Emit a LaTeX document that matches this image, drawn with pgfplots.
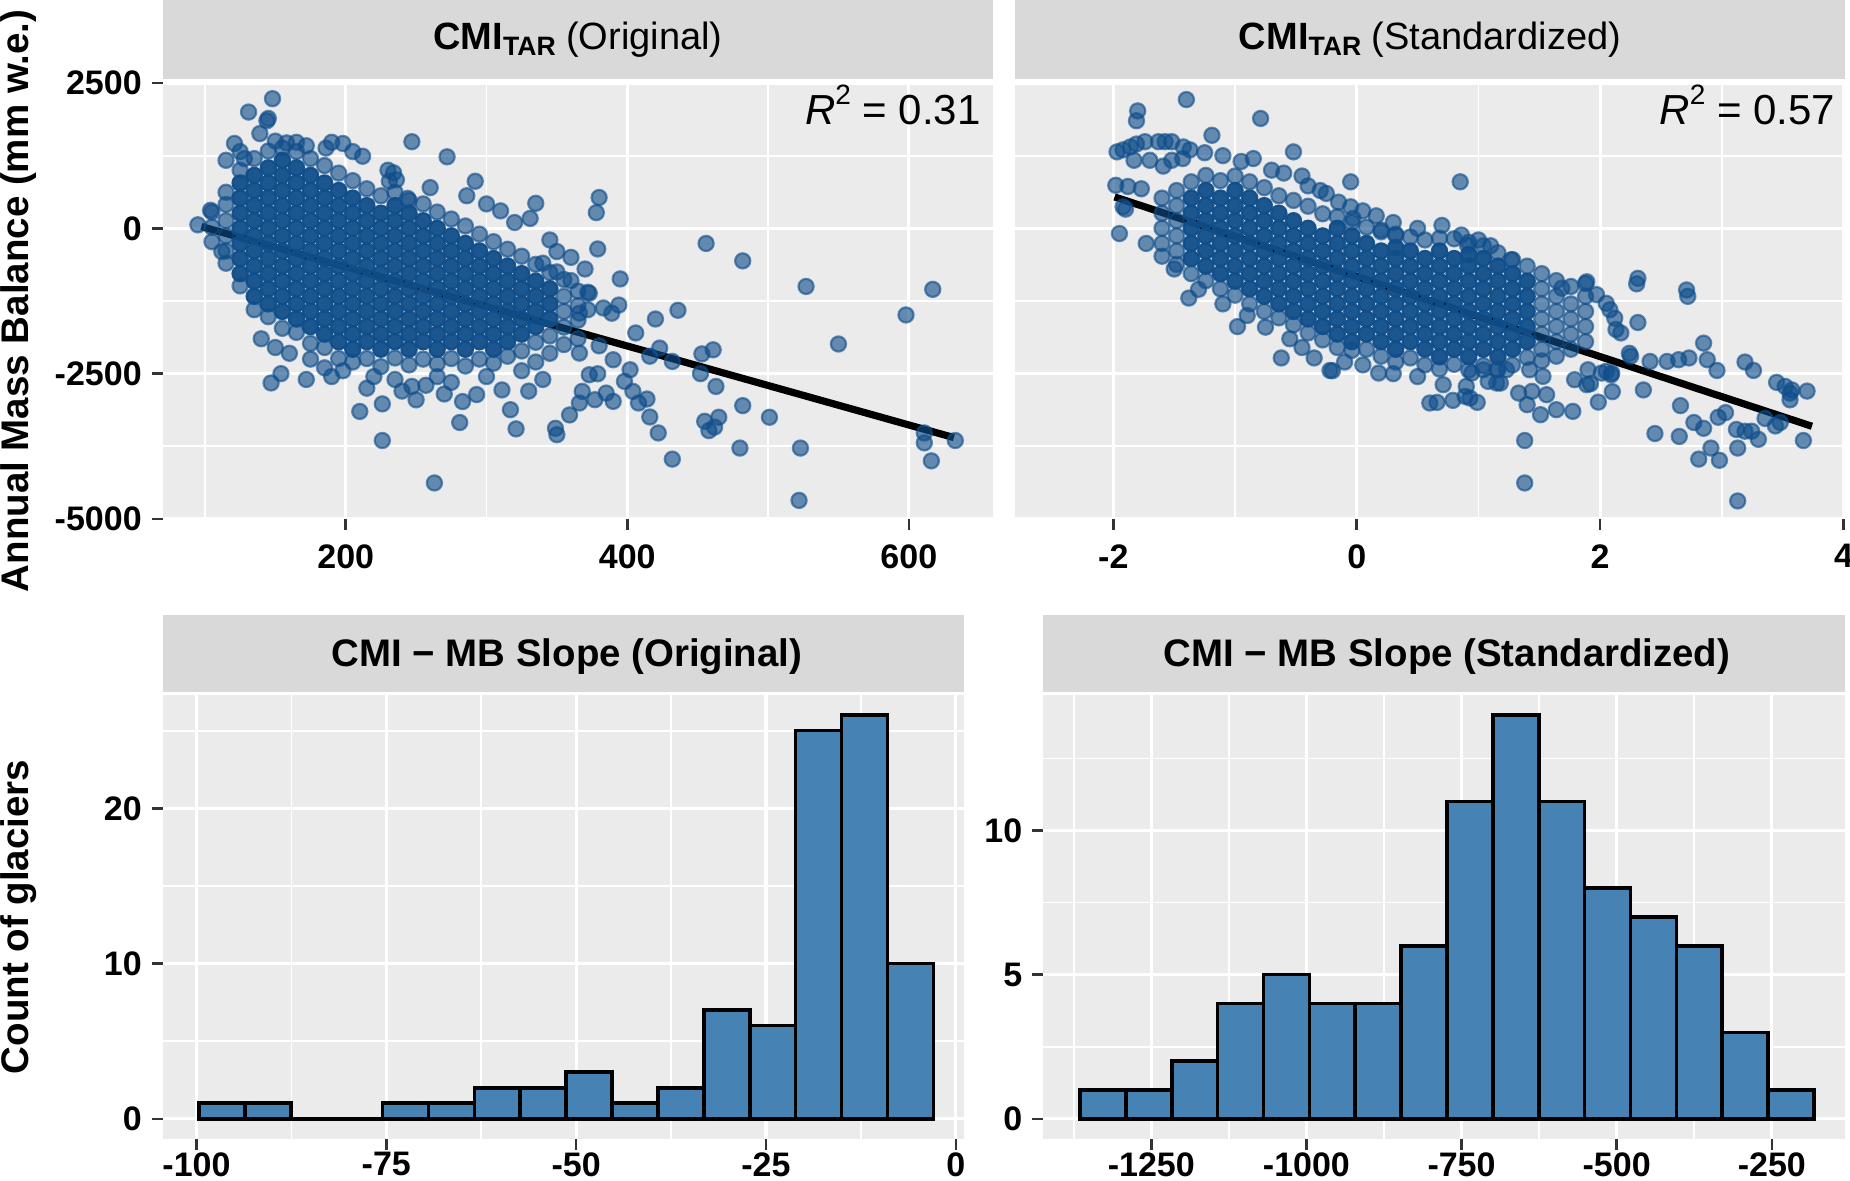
\documentclass[border=0pt]{standalone}
\usepackage{pgfplots}
\pgfplotsset{compat=1.18}
\usepackage{fontspec}
\setmainfont{Liberation Sans}
\definecolor{dblue}{HTML}{104E8B}
\definecolor{steel}{HTML}{4682B4}
\definecolor{panelbg}{HTML}{EBEBEB}
\definecolor{stripbg}{HTML}{D9D9D9}
\definecolor{tickgray}{HTML}{333333}
\newcommand{\tickfont}{\bfseries\fontsize{17}{17}\selectfont}
\pgfplotsset{
  gg/.style={
    scale only axis, anchor=south west,
    axis background/.style={fill=panelbg},
    axis line style={draw=none},
    grid=both,
    major grid style={white, line width=1.6pt},
    minor grid style={white, line width=0.85pt},
    tick align=outside,
    major tick length=5.5pt, minor tick length=0pt,
    tick style={tickgray, line width=1.3pt},
    xtick pos=left, ytick pos=left,
    tick label style={font=\tickfont, text=black},
    xticklabel style={anchor=north, inner sep=0pt, yshift=-7pt},
    yticklabel style={anchor=east, inner sep=0pt, xshift=-4.8pt},
  },
  pts/.style={only marks, mark=*, mark size=3.8pt,
    mark options={fill=dblue, draw=dblue, fill opacity=0.62, draw opacity=0.62, line width=1.1pt}},
  core/.style={only marks, mark=*, mark size=3.8pt,
    mark options={fill=dblue, draw=dblue, fill opacity=0.95, draw opacity=0.95, line width=1.1pt}},
}
\begin{document}
\begin{tikzpicture}
\useasboundingbox (0,0) rectangle (925pt,590.5pt);
% ---------------- top left ----------------
\begin{axis}[gg, at={(81.35pt,331pt)}, width=415.3pt, height=218pt,
  xmin=70, xmax=660, ymin=-5000, ymax=2500,
  xtick={200,400,600}, xticklabels={200,400,600},
  minor xtick={100,300,500},
  ytick={-5000,-2500,0,2500}, yticklabels={-5000,-2500,0,2500},
  minor ytick={-3750,-1250,1250}]
% dense core of the cloud
\addplot[core] coordinates {
(125,780)(125,520)(125,260)(125,0)(125,-260)(125,-520)(125,-780)
(135,910)(135,650)(135,390)(135,130)(135,-130)(135,-390)(135,-650)(135,-910)(135,-1170)
(145,1040)(145,780)(145,520)(145,260)(145,0)(145,-260)(145,-520)(145,-780)(145,-1040)(145,-1300)
(155,1170)(155,910)(155,650)(155,390)(155,130)(155,-130)(155,-390)(155,-650)(155,-910)(155,-1170)(155,-1430)
(165,1040)(165,780)(165,520)(165,260)(165,0)(165,-260)(165,-520)(165,-780)(165,-1040)(165,-1300)(165,-1560)
(175,910)(175,650)(175,390)(175,130)(175,-130)(175,-390)(175,-650)(175,-910)(175,-1170)(175,-1430)(175,-1690)
(185,780)(185,520)(185,260)(185,0)(185,-260)(185,-520)(185,-780)(185,-1040)(185,-1300)(185,-1560)(185,-1820)
(195,650)(195,390)(195,130)(195,-130)(195,-390)(195,-650)(195,-910)(195,-1170)(195,-1430)(195,-1690)(195,-1950)
(205,520)(205,260)(205,0)(205,-260)(205,-520)(205,-780)(205,-1040)(205,-1300)(205,-1560)(205,-1820)(205,-2080)
(215,390)(215,130)(215,-130)(215,-390)(215,-650)(215,-910)(215,-1170)(215,-1430)(215,-1690)(215,-1950)
(225,260)(225,0)(225,-260)(225,-520)(225,-780)(225,-1040)(225,-1300)(225,-1560)(225,-1820)(225,-2080)
(235,390)(235,130)(235,-130)(235,-390)(235,-650)(235,-910)(235,-1170)(235,-1430)(235,-1690)(235,-1950)
(245,260)(245,0)(245,-260)(245,-520)(245,-780)(245,-1040)(245,-1300)(245,-1560)(245,-1820)(245,-2080)
(255,130)(255,-130)(255,-390)(255,-650)(255,-910)(255,-1170)(255,-1430)(255,-1690)(255,-1950)
(265,0)(265,-260)(265,-520)(265,-780)(265,-1040)(265,-1300)(265,-1560)(265,-1820)(265,-2080)
(275,-130)(275,-390)(275,-650)(275,-910)(275,-1170)(275,-1430)(275,-1690)(275,-1950)
(285,-260)(285,-520)(285,-780)(285,-1040)(285,-1300)(285,-1560)(285,-1820)(285,-2080)
(295,-390)(295,-650)(295,-910)(295,-1170)(295,-1430)(295,-1690)(295,-1950)
(305,-520)(305,-780)(305,-1040)(305,-1300)(305,-1560)(305,-1820)(305,-2080)
(315,-650)(315,-910)(315,-1170)(315,-1430)(315,-1690)(315,-1950)
(325,-780)(325,-1040)(325,-1300)(325,-1560)(325,-1820)
(335,-910)(335,-1170)(335,-1430)(335,-1690)
(345,-1040)(345,-1300)(345,-1560)
};
% edge of the cloud and scattered glaciers
\addplot[pts] coordinates {
(105,280)(105,20)(105,-230)
(115,620)(115,410)(115,130)(115,-130)(115,-390)(115,-600)
(125,1000)(125,-990)(135,1200)(135,-1400)(145,1330)(145,-1520)(155,1380)(155,-1720)
(165,1320)(165,-1790)(175,1200)(175,-1980)(185,1080)(185,-2050)(195,950)(195,-2240)
(205,820)(205,-2300)(215,680)(215,-2240)(225,560)(225,-2380)(235,620)(235,-2230)
(245,480)(245,-2350)(255,420)(255,-2250)(265,280)(265,-2330)(275,160)(275,-2240)
(285,40)(285,-2370)(295,-100)(295,-2250)(305,-230)(305,-2320)(315,-360)(315,-2200)
(325,-480)(325,-2110)(335,-620)(335,-1960)(345,-760)(345,-1850)
(355,-880)(355,-1170)(355,-1430)(355,-1700)
(365,-1080)(365,-1330)(365,-1580)
(95,60)(104,310)(112,-400)(121,1460)(115,1170)(131,2000)(148,2230)(145,1890)(144,1850)(139,1630)
(128,1200)(125,1320)(150,1500)(158,1470)(165,1480)(172,1420)(186,1380)(198,1460)(205,1320)(190,1480)
(212,1240)(230,1000)(247,1490)(272,1230)(234,955)(231,810)(236,835)(244,515)(260,700)(292,810)
(286,560)(300,420)(310,300)(335,430)(331,170)(320,100)(345,-200)(350,-400)(360,-500)(370,-700)
(147,-2660)(154,-2500)(172,-2600)(140,-1900)(150,-2050)(160,-2150)(175,-2250)(185,-2400)(198,-2450)
(210,-3150)(226,-3020)(226,-3650)(263,-4380)(281,-3340)(283,-2980)(293,-2860)(317,-3120)(321,-3450)
(349,-3440)(350,-3550)(359,-3210)(311,-2780)(247,-2720)(250,-2950)(257,-2700)(220,-2550)(235,-2600)
(265,-2550)(275,-2650)(300,-2550)(325,-2450)(335,-2300)(345,-2150)(355,-2000)(365,-1900)(340,-2600)
(330,-2800)(270,-2850)(240,-2800)(190,-2550)(215,-2750)
(340,-600)(350,-750)(360,-900)(372,-1100)(366,-1460)(372,-1400)(383,-1370)(389,-1460)(394,-1320)
(380,530)(378,270)(379,-355)(395,-870)(456,-260)(482,-560)(527,-1000)(617,-1050)(598,-1490)(550,-1990)
(436,-1410)(420,-1560)(406,-1800)(423,-2060)(416,-2200)(432,-2290)(453,-2160)(461,-2090)(452,-2500)
(463,-2720)(482,-3050)(501,-3250)(455,-3320)(458,-3480)(462,-3420)(465,-3250)(480,-3780)(523,-3780)
(432,-3970)(522,-4680)(611,-3520)(611,-3690)(616,-4000)(633,-3650)
(373,-1117)(380,-2021)(366,-2147)(390,-2261)(402,-2433)(398,-2633)(404,-2805)(408,-3005)(414,-2936)
(416,-3245)(422,-3520)(373,-2519)(379,-2502)(368,-2805)(377,-2948)(385,-2834)(390,-2977)(366,-3005)
};
\addplot[black, line width=3.6pt] coordinates {(97.5,30)(632,-3600)};
\end{axis}
% ---------------- top right ----------------
\begin{axis}[gg, at={(507.5pt,331pt)}, width=415pt, height=218pt,
  xmin=-2.808, xmax=4.012, ymin=-5000, ymax=2500,
  xtick={-2,0,2,4}, xticklabels={-2,0,2,4},
  minor xtick={-1,1,3},
  ytick={-5000,-2500,0,2500}, yticklabels={},
  y tick style={draw=none},
  minor ytick={-3750,-1250,1250}]
\addplot[core] coordinates {
(-1.36,520)(-1.36,260)(-1.36,0)(-1.36,-260)(-1.36,-520)
(-1.24,650)(-1.24,390)(-1.24,130)(-1.24,-130)(-1.24,-390)(-1.24,-650)
(-1.12,520)(-1.12,260)(-1.12,0)(-1.12,-260)(-1.12,-520)(-1.12,-780)
(-1.00,650)(-1.00,390)(-1.00,130)(-1.00,-130)(-1.00,-390)(-1.00,-650)(-1.00,-910)
(-0.88,520)(-0.88,260)(-0.88,0)(-0.88,-260)(-0.88,-520)(-0.88,-780)(-0.88,-1040)
(-0.76,390)(-0.76,130)(-0.76,-130)(-0.76,-390)(-0.76,-650)(-0.76,-910)(-0.76,-1170)
(-0.64,260)(-0.64,0)(-0.64,-260)(-0.64,-520)(-0.64,-780)(-0.64,-1040)(-0.64,-1300)
(-0.52,130)(-0.52,-130)(-0.52,-390)(-0.52,-650)(-0.52,-910)(-0.52,-1170)(-0.52,-1430)
(-0.40,0)(-0.40,-260)(-0.40,-520)(-0.40,-780)(-0.40,-1040)(-0.40,-1300)(-0.40,-1560)
(-0.28,-130)(-0.28,-390)(-0.28,-650)(-0.28,-910)(-0.28,-1170)(-0.28,-1430)(-0.28,-1690)
(-0.16,0)(-0.16,-260)(-0.16,-520)(-0.16,-780)(-0.16,-1040)(-0.16,-1300)(-0.16,-1560)(-0.16,-1820)
(-0.04,-130)(-0.04,-390)(-0.04,-650)(-0.04,-910)(-0.04,-1170)(-0.04,-1430)(-0.04,-1690)(-0.04,-1950)
(0.08,-260)(0.08,-520)(0.08,-780)(0.08,-1040)(0.08,-1300)(0.08,-1560)(0.08,-1820)
(0.20,-390)(0.20,-650)(0.20,-910)(0.20,-1170)(0.20,-1430)(0.20,-1690)(0.20,-1950)
(0.32,-330)(0.32,-520)(0.32,-780)(0.32,-1040)(0.32,-1300)(0.32,-1560)(0.32,-1820)(0.32,-2080)
(0.44,-390)(0.44,-650)(0.44,-910)(0.44,-1170)(0.44,-1430)(0.44,-1690)(0.44,-1950)
(0.56,-520)(0.56,-780)(0.56,-1040)(0.56,-1300)(0.56,-1560)(0.56,-1820)(0.56,-2080)
(0.68,-390)(0.68,-650)(0.68,-910)(0.68,-1170)(0.68,-1430)(0.68,-1690)(0.68,-1950)(0.68,-2210)
(0.80,-520)(0.80,-780)(0.80,-1040)(0.80,-1300)(0.80,-1560)(0.80,-1820)(0.80,-2080)
(0.92,-450)(0.92,-650)(0.92,-910)(0.92,-1170)(0.92,-1430)(0.92,-1690)(0.92,-1950)(0.92,-2210)
(1.04,-520)(1.04,-780)(1.04,-1040)(1.04,-1300)(1.04,-1560)(1.04,-1820)(1.04,-2080)
(1.16,-650)(1.16,-910)(1.16,-1170)(1.16,-1430)(1.16,-1690)(1.16,-1950)(1.16,-2210)
(1.28,-780)(1.28,-1040)(1.28,-1300)(1.28,-1560)(1.28,-1820)(1.28,-2080)
(1.40,-910)(1.40,-1170)(1.40,-1430)(1.40,-1690)(1.40,-1950)
};
\addplot[pts] coordinates {
(-1.60,520)(-1.60,260)(-1.60,0)(-1.60,-260)(-1.60,-480)
(-1.48,650)(-1.48,390)(-1.48,130)(-1.48,-130)(-1.48,-390)(-1.48,-620)
(-1.36,800)(-1.36,-780)(-1.24,910)(-1.24,-900)(-1.12,820)(-1.12,-1040)(-1.00,900)(-1.00,-1150)
(-0.88,800)(-0.88,-1300)(-0.76,700)(-0.76,-1430)(-0.64,560)(-0.64,-1540)(-0.52,480)(-0.52,-1660)
(-0.40,380)(-0.40,-1800)(-0.28,250)(-0.28,-1920)(-0.16,200)(-0.16,-2050)(-0.04,100)(-0.04,-2100)
(0.08,20)(0.08,-2080)(0.20,-60)(0.20,-2200)(0.32,-120)(0.32,-2300)(0.44,-150)(0.44,-2230)
(0.56,-200)(0.56,-2350)(0.68,-170)(0.68,-2420)(0.80,-180)(0.80,-2340)(0.92,-240)(0.92,-2440)
(1.04,-300)(1.04,-2360)(1.16,-420)(1.16,-2430)(1.28,-540)(1.28,-2350)(1.40,-650)(1.40,-2220)
(1.52,-780)(1.52,-1040)(1.52,-1300)(1.52,-1560)(1.52,-1820)(1.52,-2080)(1.52,-2280)
(1.64,-900)(1.64,-1170)(1.64,-1430)(1.64,-1690)(1.64,-1950)(1.64,-2200)
(1.76,-1000)(1.76,-1300)(1.76,-1560)(1.76,-1820)(1.76,-2080)
(1.88,-950)(1.88,-1170)(1.88,-1430)(1.88,-1690)(1.88,-1950)
(-1.40,2215)(-1.80,2020)(-1.81,1850)(-0.79,1890)(-1.19,1600)(-0.52,1315)
(-1.97,1315)(-1.92,1350)(-1.86,1400)(-1.81,1450)(-1.74,1490)(-1.63,1490)(-1.575,1490)(-1.52,1490)(-1.425,1400)(-1.37,1350)
(-1.83,1170)(-1.70,1170)(-1.59,1070)(-1.52,1170)(-1.43,1200)
(-1.98,740)(-1.88,720)(-1.77,680)(-1.92,370)(-1.90,330)(-1.95,-90)(-1.73,-260)
(-1.38,-1200)(-0.98,-1690)(-0.62,-2230)(-0.35,-2230)(-0.22,-2445)(-0.20,-2450)(0.18,-2490)
(-0.05,800)(-0.05,370)(-0.03,170)(0.16,215)(-0.25,600)(-0.40,730)(0.2,-30)(0.32,-100)
(-1.25,1300)(-1.1,1250)(-0.95,1150)(-0.85,1200)(-0.7,1000)(-0.6,950)(-0.45,900)(-0.3,650)(-0.15,450)
(0.05,300)(0.3,100)(0.5,0)(0.7,50)(0.85,800)(0.86,-115)(0.91,-290)(1.27,-540)(1.1,-300)(1.0,-200)
(-1.5,-700)(-1.3,-1050)(-1.1,-1300)(-0.9,-1500)(-0.75,-1700)(-0.55,-1900)(-0.45,-2050)(-0.1,-2300)(0.05,-2350)(0.3,-2500)(0.5,-2550)
(1.685,-1030)(1.89,-920)(1.97,-1140)(2.31,-860)(2.30,-955)(2.71,-1060)(2.72,-1170)(2.31,-1620)(2.08,-1400)
(2.12,-1545)(2.17,-1800)(2.13,-1740)(2.05,-1290)(2.24,-2150)(2.25,-2200)(2.05,-2460)(2.09,-2520)(2.10,-2810)
(2.355,-2780)(2.41,-2290)(2.55,-2290)(2.645,-2260)(2.73,-2230)(2.85,-1975)(2.88,-2260)(2.96,-2445)(3.19,-2300)
(3.26,-2445)(3.45,-2650)(3.52,-2720)(3.56,-2835)(3.575,-2780)(3.70,-2800)(3.56,-2950)(2.66,-3050)(2.77,-3340)
(2.85,-3440)(2.45,-3530)(2.65,-3580)(2.97,-3250)(3.03,-3170)(3.12,-3460)(3.19,-3490)(3.245,-3490)(3.30,-3630)
(3.355,-3270)(3.44,-3400)(3.48,-3340)(3.67,-3650)(2.91,-3780)(2.81,-3970)(2.98,-3990)(3.13,-3780)(3.13,-4690)
(1.38,-3650)(1.38,-4380)(1.985,-2990)
(0.60,-3005)(0.66,-2994)(0.79,-2960)(0.89,-2891)(0.93,-2920)(0.99,-2994)(1.33,-2834)(1.40,-3034)(1.51,-3206)
(1.56,-2862)(1.64,-3120)(1.775,-3149)(1.89,-2690)(1.92,-2673)(1.79,-2604)(1.90,-2433)(2.01,-2490)(2.095,-2490)
(1.44,-2805)(1.53,-2547)(1.42,-2433)(1.23,-2433)(1.15,-2662)(1.08,-2633)(1.18,-2662)(0.71,-2690)(0.90,-2719)
(0.945,-2490)(1.04,-2433)(1.15,-2433)
};
\addplot[black, line width=3.6pt] coordinates {(-1.99,540)(3.74,-3405)};
\end{axis}
% ---------------- bottom left ----------------
\begin{axis}[gg, at={(81.35pt,21pt)}, width=400.8pt, height=222pt,
  xmin=-104.45, xmax=1.12, ymin=-1.3, ymax=27.3,
  xtick={-100,-75,-50,-25,0}, xticklabels={-100,-75,-50,-25,0},
  minor xtick={-87.5,-62.5,-37.5,-12.5},
  xticklabel style={yshift=6pt},
  ytick={0,10,20}, yticklabels={0,10,20},
  minor ytick={5,15,25}]
\addplot[ybar interval, fill=steel, draw=black, line width=1.8pt] coordinates {
(-99.67,1)(-93.63,1)(-87.58,0)(-81.54,0)(-75.49,1)(-69.45,1)(-63.40,2)(-57.36,2)(-51.31,3)
(-45.27,1)(-39.22,2)(-33.18,7)(-27.13,6)(-21.09,25)(-15.04,26)(-9.00,10)(-2.95,10)};
\end{axis}
% ---------------- bottom right ----------------
\begin{axis}[gg, at={(521.65pt,21pt)}, width=400.85pt, height=222pt,
  xmin=-1424, xmax=-132, ymin=-0.7, ymax=14.7,
  xtick={-1250,-1000,-750,-500,-250}, xticklabels={-1250,-1000,-750,-500,-250},
  minor xtick={-1375,-1125,-875,-625,-375},
  xticklabel style={yshift=6pt},
  ytick={0,5,10}, yticklabels={0,5,10},
  minor ytick={2.5,7.5,12.5}]
\addplot[ybar interval, fill=steel, draw=black, line width=1.8pt] coordinates {
(-1364.9,1)(-1291.0,1)(-1217.1,2)(-1143.1,4)(-1069.2,5)(-995.3,4)(-921.3,4)(-847.4,6)(-773.5,11)
(-699.6,14)(-625.6,11)(-551.7,8)(-477.8,7)(-403.8,6)(-329.9,3)(-256.0,1)(-182.0,1)};
\end{axis}
% ---------------- strips ----------------
\fill[stripbg] (81.35pt,551pt) rectangle (496.65pt,590.5pt);
\fill[stripbg] (507.5pt,551pt) rectangle (922.5pt,590.5pt);
\fill[stripbg] (81.35pt,244.5pt) rectangle (482.15pt,283pt);
\fill[stripbg] (521.65pt,244.5pt) rectangle (922.5pt,283pt);
\node[anchor=base, inner sep=0pt] at (289pt,565.5pt)
  {\fontsize{19}{19}\selectfont\textbf{CMI}\raisebox{-3pt}{\fontsize{13.3}{13.3}\selectfont\textbf{TAR}} (Original)};
\node[anchor=base, inner sep=0pt] at (715pt,565.5pt)
  {\fontsize{19}{19}\selectfont\textbf{CMI}\raisebox{-3pt}{\fontsize{13.3}{13.3}\selectfont\textbf{TAR}} (Standardized)};
\node[anchor=base, inner sep=0pt] at (283.5pt,257.3pt)
  {\bfseries\fontsize{19.2}{19.2}\selectfont CMI − MB Slope (Original)};
\node[anchor=base, inner sep=0pt] at (723.5pt,257.3pt)
  {\bfseries\fontsize{19.2}{19.2}\selectfont CMI − MB Slope (Standardized)};
% ---------------- R2 ----------------
\node[anchor=base east, inner sep=0pt] at (490.5pt,528pt)
  {\fontsize{21}{21}\selectfont\textit{R}\raisebox{10pt}{\fontsize{14}{14}\selectfont 2} = 0.31};
\node[anchor=base east, inner sep=0pt] at (917.7pt,528pt)
  {\fontsize{21}{21}\selectfont\textit{R}\raisebox{10pt}{\fontsize{14}{14}\selectfont 2} = 0.57};
% ---------------- axis titles ----------------
\node[rotate=90, anchor=base, inner sep=0pt] at (14.3pt,440pt)
  {\bfseries\fontsize{19.25}{19.25}\selectfont Annual Mass Balance (mm w.e.)};
\node[rotate=90, anchor=base, inner sep=0pt] at (14.3pt,132pt)
  {\bfseries\fontsize{19.25}{19.25}\selectfont Count of glaciers};
\end{tikzpicture}
\end{document}
